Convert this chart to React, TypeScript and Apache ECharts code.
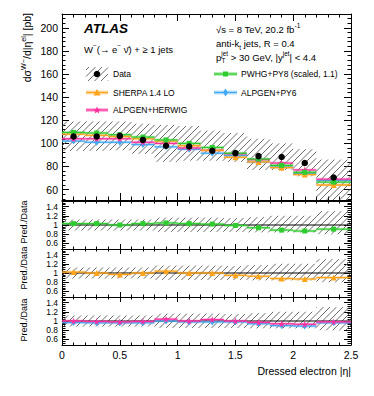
import React, { useEffect, useRef } from 'react';
import * as echarts from 'echarts';

const FONT = '"Liberation Sans", Arial, Helvetica, sans-serif';

// ---- data ----
const binEdges = [0, 0.2, 0.4, 0.6, 0.8, 1.0, 1.2, 1.4, 1.6, 1.8, 2.0, 2.2, 2.5];
const binCenters = [0.1, 0.3, 0.5, 0.7, 0.9, 1.1, 1.3, 1.5, 1.7, 1.9, 2.1, 2.35];
const dataXsec = [106, 106, 106.5, 103, 98, 97.3, 93.6, 91.6, 89, 88.2, 83, 70.5];
const dataBandHigh = [119, 119, 119, 117, 116, 115, 111, 109, 104, 100, 95, 86];
const dataBandLow = [93.5, 93.5, 94, 91, 84, 85, 85, 84, 77, 77, 71.5, 45];
const pwhgXsec = [109.5, 109, 107.5, 105.5, 103, 100, 96.5, 91.5, 86.5, 81, 75, 66.5];
const sherpaXsec = [108, 107, 106, 104, 102, 98, 94, 88, 84, 79, 73, 64];
const alpgenPy6Xsec = [102, 101, 101, 99, 97, 95, 91.5, 89.5, 84, 79.5, 74, 68];
const alpgenHerwigXsec = [104, 104, 104, 101, 100, 96, 94, 91, 86, 83, 77, 69];

const ratioBandHigh = [1.12, 1.12, 1.12, 1.12, 1.16, 1.16, 1.16, 1.15, 1.17, 1.2, 1.2, 1.3];
const ratioBandLow = [0.88, 0.88, 0.88, 0.88, 0.85, 0.85, 0.85, 0.85, 0.84, 0.84, 0.84, 0.8];
const pwhgRatio = [1.03, 1.03, 1.0, 1.03, 1.045, 1.03, 1.02, 0.99, 0.94, 0.89, 0.87, 0.91];
const sherpaRatio = [1.02, 1.0, 0.97, 1.0, 1.04, 1.0, 1.0, 0.95, 0.93, 0.88, 0.87, 0.9];
const alpgenPy6Ratio = [0.965, 0.96, 0.96, 0.96, 1.0, 0.98, 0.98, 0.98, 0.94, 0.9, 0.89, 0.96];
const alpgenHerwigRatio = [1.0, 0.99, 0.98, 0.99, 1.04, 1.0, 1.03, 1.0, 0.97, 0.94, 0.93, 0.98];

const mainYTicks = [60, 80, 100, 120, 140, 160, 180, 200];
const ratioYTicks = [0.6, 0.8, 1.0, 1.2, 1.4];
const xTickLabels = [0, 0.5, 1, 1.5, 2, 2.5];

const GREEN = '#2ecc2e';
const ORANGE = '#ffa31a';
const BLUE = '#3fa9f5';
const PINK = '#ff2fa0';
const HATCH = '#5a5a5a';

const STAR_PATH = 'path://M50,0 L61,35 L98,35 L68,57 L79,91 L50,70 L21,91 L32,57 L2,35 L39,35 Z';

function hatchLines(x0: number, y0: number, x1: number, y1: number, sp: number) {
  const out: any[] = [];
  const cmin = x0 + y0;
  const cmax = x1 + y1;
  for (let c = Math.ceil(cmin / sp) * sp; c <= cmax; c += sp) {
    const xs = Math.max(x0, c - y1);
    const xe = Math.min(x1, c - y0);
    if (xe > xs) {
      out.push({
        type: 'line',
        shape: { x1: xs, y1: c - xs, x2: xe, y2: c - xe },
        style: { stroke: HATCH, lineWidth: 0.9 },
      });
    }
  }
  return out;
}

function hatchRender(params: any, api: any) {
  const lo = api.value(0), hi = api.value(1), yl = api.value(2), yh = api.value(3);
  const p0 = api.coord([lo, yh]);
  const p1 = api.coord([hi, yl]);
  const cs = params.coordSys;
  const y0 = Math.max(p0[1], cs.y);
  const y1 = Math.min(p1[1], cs.y + cs.height);
  return { type: 'group', children: hatchLines(p0[0], y0, p1[0], y1, 6.5) };
}

function stepRender(color: string) {
  return (params: any, api: any) => {
    const lo = api.value(0), hi = api.value(1), v = api.value(2);
    const a = api.coord([lo, v]);
    const b = api.coord([hi, v]);
    return {
      type: 'group',
      children: [
        { type: 'line', shape: { x1: a[0], y1: a[1], x2: b[0], y2: b[1] }, style: { stroke: color, lineWidth: 3, opacity: 0.25 } },
        { type: 'line', shape: { x1: a[0], y1: a[1], x2: b[0], y2: b[1] }, style: { stroke: color, lineWidth: 1.3 } },
      ],
    };
  };
}

function binData(vals: number[]) {
  return vals.map((v, i) => [binEdges[i], binEdges[i + 1], v]);
}
function bandData(low: number[], high: number[]) {
  return low.map((l, i) => [binEdges[i], binEdges[i + 1], l, high[i]]);
}
function pointData(vals: number[]) {
  return vals.map((v, i) => [binCenters[i], v]);
}

function minorValues(min: number, max: number, step: number, majorStep: number) {
  const out: number[] = [];
  const k0 = Math.ceil(min / step - 1e-9);
  const k1 = Math.floor(max / step + 1e-9);
  const ratio = Math.round(majorStep / step);
  for (let k = k0; k <= k1; k++) {
    if (k % ratio !== 0) out.push(+(k * step).toFixed(4));
  }
  return out;
}

const grids = [
  { left: 62, top: 14, width: 289, height: 186 },
  { left: 62, top: 201, width: 289, height: 48 },
  { left: 62, top: 249, width: 289, height: 48 },
  { left: 62, top: 297, width: 289, height: 48 },
];
const yRanges = [
  [51, 212],
  [0.48, 1.52],
  [0.48, 1.52],
  [0.48, 1.52],
];

function buildOption() {
  const xAxes: any[] = [];
  const yAxes: any[] = [];
  grids.forEach((g, i) => {
    const isMain = i === 0;
    const isBottom = i === 3;
    const baseX = {
      type: 'value', gridIndex: i, min: 0, max: 2.5, interval: 0.5,
      axisLine: { show: true, lineStyle: { color: '#000', width: 1 } },
      axisTick: { show: true, inside: true, length: isMain ? 7 : 5, lineStyle: { color: '#000', width: 1 } },
      minorTick: { show: true, splitNumber: 5, length: isMain ? 3.5 : 2.5, lineStyle: { color: '#000', width: 1 } },
      splitLine: { show: false }, minorSplitLine: { show: false },
    };
    xAxes.push({
      ...baseX, position: 'bottom',
      axisLabel: {
        show: isBottom, color: '#000', fontSize: 10.5, fontFamily: FONT, margin: 4, hideOverlap: false,
        formatter: (v: number) => (xTickLabels.indexOf(v) >= 0 ? String(v) : ''),
      },
    });
    xAxes.push({ ...baseX, position: 'top', axisLabel: { show: false } });

    const [ymin, ymax] = yRanges[i];
    const majors = isMain ? mainYTicks : ratioYTicks;
    const minors = isMain ? minorValues(ymin, ymax, 4, 20) : minorValues(ymin, ymax, 0.04, 0.2);
    const majLen = 7;
    const minLen = 3.5;
    ['left', 'right'].forEach((pos) => {
      yAxes.push({
        type: 'value', gridIndex: i, min: ymin, max: ymax, position: pos,
        axisLine: { show: true, lineStyle: { color: '#000', width: 1 } },
        axisTick: { show: true, inside: true, length: majLen, customValues: majors, lineStyle: { color: '#000', width: 1 } },
        axisLabel: {
          show: pos === 'left', customValues: majors, color: '#000', fontFamily: FONT,
          fontSize: isMain ? 10.5 : 8.5, margin: 4, hideOverlap: false, lineHeight: isMain ? 12 : 8,
          formatter: (v: number) => (isMain ? String(v) : String(+v.toFixed(1))),
        },
        splitLine: { show: false },
      });
      yAxes.push({
        type: 'value', gridIndex: i, min: ymin, max: ymax, position: pos,
        axisLine: { show: false },
        axisTick: { show: true, inside: true, length: minLen, customValues: minors, lineStyle: { color: '#000', width: 1 } },
        axisLabel: { show: false },
        splitLine: { show: false },
      });
    });
  });

  const series: any[] = [];
  const ax = (i: number) => ({ xAxisIndex: 2 * i, yAxisIndex: 4 * i });
  const hatch = (i: number, low: number[], high: number[]) => ({
    type: 'custom', ...ax(i), renderItem: hatchRender, data: bandData(low, high), z: 1, silent: true,
    encode: { x: [0, 1], y: [2, 3] },
  });
  const steps = (i: number, vals: number[], color: string, z = 3) => ({
    type: 'custom', ...ax(i), renderItem: stepRender(color), data: binData(vals), z, silent: true,
    encode: { x: [0, 1], y: 2 },
  });
  const markers = (i: number, vals: number[], color: string, symbol: string, size: any, z = 5) => ({
    type: 'scatter', ...ax(i), data: pointData(vals), symbol, symbolSize: size,
    itemStyle: { color, opacity: 1 }, z, silent: true,
  });
  const unity = (i: number) => ({
    type: 'line', ...ax(i), data: [[0, 1], [2.5, 1]], symbol: 'none',
    lineStyle: { color: '#000', width: 1 }, z: 2, silent: true,
  });

  // main panel
  series.push(hatch(0, dataBandLow, dataBandHigh));
  series.push(steps(0, alpgenPy6Xsec, BLUE));
  series.push(steps(0, alpgenHerwigXsec, PINK));
  series.push(steps(0, sherpaXsec, ORANGE));
  series.push(steps(0, pwhgXsec, GREEN));
  series.push(markers(0, alpgenPy6Xsec, BLUE, 'diamond', [5, 7]));
  series.push(markers(0, sherpaXsec, ORANGE, 'triangle', 6));
  series.push(markers(0, alpgenHerwigXsec, PINK, STAR_PATH, 7));
  series.push(markers(0, pwhgXsec, GREEN, 'rect', 5));
  series.push(markers(0, dataXsec, '#000', 'circle', 6.5, 8));

  // ratio 1: PWHG
  series.push(hatch(1, ratioBandLow, ratioBandHigh));
  series.push(unity(1));
  series.push(steps(1, pwhgRatio, GREEN));
  series.push(markers(1, pwhgRatio, GREEN, 'rect', 5));
  // ratio 2: SHERPA
  series.push(hatch(2, ratioBandLow, ratioBandHigh));
  series.push(unity(2));
  series.push(steps(2, sherpaRatio, ORANGE));
  series.push(markers(2, sherpaRatio, ORANGE, 'triangle', 6));
  // ratio 3: ALPGEN
  series.push(hatch(3, ratioBandLow, ratioBandHigh));
  series.push(unity(3));
  series.push(steps(3, alpgenPy6Ratio, BLUE));
  series.push(steps(3, alpgenHerwigRatio, PINK));
  series.push(markers(3, alpgenPy6Ratio, BLUE, 'diamond', [5, 7]));
  series.push(markers(3, alpgenHerwigRatio, PINK, STAR_PATH, 7));

  // ---- graphic (texts and legend) ----
  const g: any[] = [];
  const txt = (x: number, y: number, text: string, size: number, extra: any = {}) => ({
    type: 'text', x, y, z: 100, silent: true,
    style: { text, fontSize: size, fontFamily: FONT, fill: '#000', verticalAlign: 'middle', align: 'left', ...extra },
  });
  const richBase = (size: number) => ({
    n: { fontSize: size, fontFamily: FONT, lineHeight: 14, fill: '#000', verticalAlign: 'middle' },
    s: { fontSize: size * 0.68, fontFamily: FONT, lineHeight: 8, fill: '#000', verticalAlign: 'top' },
    b: { fontSize: size * 0.68, fontFamily: FONT, lineHeight: 8, fill: '#000', verticalAlign: 'bottom' },
  });

  g.push(txt(84, 28.5, 'ATLAS', 13.5, { fontWeight: 'bold', fontStyle: 'italic' }));
  g.push({
    type: 'text', x: 84, y: 49, z: 100, silent: true,
    style: {
      text: '{n|W}{s|\u2212}{n|(\u2192 e}{s|\u2212}{n| \u03bd\u0304) + \u2265 1 jets}',
      rich: richBase(9.5), verticalAlign: 'middle', align: 'left',
    },
  });
  g.push({
    type: 'text', x: 216, y: 29, z: 100, silent: true,
    style: { text: '{n|\u221as = 8 TeV, 20.2 fb}{s|-1}', rich: richBase(9.5), verticalAlign: 'middle', align: 'left' },
  });
  g.push({
    type: 'text', x: 216, y: 43, z: 100, silent: true,
    style: { text: '{n|anti-k}{b|t}{n| jets, R = 0.4}', rich: richBase(9.5), verticalAlign: 'middle', align: 'left' },
  });
  g.push({
    type: 'text', x: 216, y: 57, z: 100, silent: true,
    style: { text: '{n|p}{s|jet}{n| > 30 GeV, |y}{s|jet}{n|| < 4.4}', rich: richBase(9.5), verticalAlign: 'middle', align: 'left' },
  });
  g.push(txt(221.5, 60.5, 'T', 6.5));

  // y titles
  g.push({
    type: 'text', x: 27, y: 13, rotation: Math.PI / 2, z: 100, silent: true,
    style: {
      text: '{n|d\u03c3}{s|W\u2212}{n|/d|\u03b7}{s|el}{n|| [pb]}',
      rich: richBase(10.5), verticalAlign: 'middle', align: 'right',
    },
  });
  [222, 268, 320].forEach((cy) => {
    g.push({
      type: 'text', x: 24, y: cy, rotation: Math.PI / 2, z: 100, silent: true,
      style: { text: 'Pred./Data', fontSize: 9, fontFamily: FONT, fill: '#000', align: 'center', verticalAlign: 'middle' },
    });
  });
  // x title
  g.push(txt(351, 370.5, 'Dressed electron |\u03b7|', 10.5, { align: 'right' }));

  // legend
  const legFont = 8.5;
  // Data
  g.push({ type: 'group', z: 100, silent: true, children: hatchLines(86, 67, 108, 81, 6.5) });
  g.push({ type: 'circle', z: 101, silent: true, shape: { cx: 97, cy: 74, r: 3.3 }, style: { fill: '#000' } });
  g.push(txt(113, 74, 'Data', legFont));

  const legLine = (x0: number, x1: number, y: number, color: string) => [
    { type: 'line', z: 100, silent: true, shape: { x1: x0, y1: y, x2: x1, y2: y }, style: { stroke: color, lineWidth: 4, opacity: 0.35 } },
    { type: 'line', z: 100, silent: true, shape: { x1: x0, y1: y, x2: x1, y2: y }, style: { stroke: color, lineWidth: 1.3 } },
  ];
  const starPts = (cx: number, cy: number, r: number) => {
    const pts: number[][] = [];
    for (let k = 0; k < 10; k++) {
      const a = -Math.PI / 2 + (k * Math.PI) / 5;
      const rr = k % 2 === 0 ? r : r * 0.42;
      pts.push([cx + rr * Math.cos(a), cy + rr * Math.sin(a)]);
    }
    return pts;
  };
  // SHERPA
  g.push(...legLine(86, 108, 92.5, ORANGE));
  g.push({ type: 'polygon', z: 101, silent: true, shape: { points: [[97, 89], [100.5, 95.5], [93.5, 95.5]] }, style: { fill: ORANGE } });
  g.push(txt(113, 92.5, 'SHERPA 1.4 LO', legFont));
  // ALPGEN+HERWIG
  g.push(...legLine(86, 108, 110, PINK));
  g.push({ type: 'polygon', z: 101, silent: true, shape: { points: starPts(97, 110.3, 4) }, style: { fill: PINK } });
  g.push(txt(113, 110, 'ALPGEN+HERWIG', legFont));
  // PWHG
  g.push(...legLine(214, 237, 74, GREEN));
  g.push({ type: 'rect', z: 101, silent: true, shape: { x: 223, y: 71.5, width: 5, height: 5 }, style: { fill: GREEN } });
  g.push(txt(241, 74, 'PWHG+PY8 (scaled, 1.1)', legFont));
  // ALPGEN+PY6
  g.push(...legLine(214, 237, 92.5, BLUE));
  g.push({ type: 'polygon', z: 101, silent: true, shape: { points: [[225.5, 88.5], [228, 92.5], [225.5, 96.5], [223, 92.5]] }, style: { fill: BLUE } });
  g.push(txt(241, 92.5, 'ALPGEN+PY6', legFont));

  return {
    animation: false,
    backgroundColor: '#fff',
    grid: grids.map((gr) => ({ ...gr, containLabel: false })),
    xAxis: xAxes,
    yAxis: yAxes,
    series,
    graphic: { elements: g },
  };
}

export default function App() {
  const ref = useRef<HTMLDivElement>(null);
  useEffect(() => {
    if (!ref.current) return;
    const chart = echarts.init(ref.current, undefined, { renderer: 'svg' });
    chart.setOption(buildOption() as any);
    return () => chart.dispose();
  }, []);
  return <div ref={ref} style={{ position: 'fixed', left: 0, top: 0, width: 374, height: 396, background: '#fff' }} />;
}
